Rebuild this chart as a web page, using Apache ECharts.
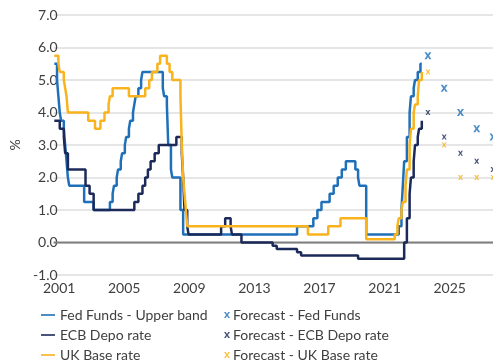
<!DOCTYPE html>
<html>
<head>
<meta charset="utf-8">
<script src="https://cdn.jsdelivr.net/npm/echarts@6/dist/echarts.min.js"></script>
<style>
  html, body { margin: 0; padding: 0; background: #ffffff; }
  #chart { width: 493px; height: 364px; }
</style>
</head>
<body>
<div id="chart"></div>
<script>
// Policy rate changes: [month of change, new rate in %]
const fedFunds = [
  ['2001-01', 5.5], ['2001-03', 5.0], ['2001-04', 4.5], ['2001-05', 4.0], ['2001-06', 3.75],
  ['2001-08', 3.5], ['2001-09', 3.0], ['2001-10', 2.5], ['2001-11', 2.0], ['2001-12', 1.75],
  ['2002-11', 1.25], ['2003-06', 1.0], ['2004-06', 1.25], ['2004-08', 1.5], ['2004-09', 1.75],
  ['2004-11', 2.0], ['2004-12', 2.25], ['2005-02', 2.5], ['2005-03', 2.75], ['2005-05', 3.0],
  ['2005-06', 3.25], ['2005-08', 3.5], ['2005-09', 3.75], ['2005-11', 4.0], ['2005-12', 4.25],
  ['2006-01', 4.5], ['2006-03', 4.75], ['2006-05', 5.0], ['2006-06', 5.25], ['2007-09', 4.75],
  ['2007-10', 4.5], ['2007-12', 4.25], ['2008-01', 3.0], ['2008-03', 2.25], ['2008-04', 2.0],
  ['2008-10', 1.0], ['2008-12', 0.25], ['2015-12', 0.5], ['2016-12', 0.75], ['2017-03', 1.0],
  ['2017-06', 1.25], ['2017-12', 1.5], ['2018-03', 1.75], ['2018-06', 2.0], ['2018-09', 2.25],
  ['2018-12', 2.5], ['2019-07', 2.25], ['2019-09', 2.0], ['2019-10', 1.75], ['2020-03', 0.25],
  ['2022-03', 0.5], ['2022-05', 1.0], ['2022-06', 1.75], ['2022-07', 2.5], ['2022-09', 3.25],
  ['2022-11', 4.0], ['2022-12', 4.5], ['2023-02', 4.75], ['2023-03', 5.0], ['2023-05', 5.25],
  ['2023-07', 5.5], ['2023-08', 5.5]
];
const ecbDepo = [
  ['2001-01', 3.75], ['2001-05', 3.5], ['2001-08', 3.25], ['2001-09', 2.75], ['2001-11', 2.25],
  ['2002-12', 1.75], ['2003-03', 1.5], ['2003-06', 1.0], ['2005-12', 1.25], ['2006-03', 1.5],
  ['2006-06', 1.75], ['2006-08', 2.0], ['2006-10', 2.25], ['2006-12', 2.5], ['2007-03', 2.75],
  ['2007-06', 3.0], ['2008-07', 3.25], ['2008-11', 2.75], ['2008-12', 2.0], ['2009-01', 1.0],
  ['2009-03', 0.5], ['2009-04', 0.25], ['2011-04', 0.5], ['2011-07', 0.75], ['2011-11', 0.5],
  ['2011-12', 0.25], ['2012-07', 0.0], ['2014-06', -0.1], ['2014-09', -0.2], ['2015-12', -0.3],
  ['2016-03', -0.4], ['2019-09', -0.5], ['2022-07', 0.0], ['2022-09', 0.75], ['2022-11', 1.5],
  ['2022-12', 2.0], ['2023-02', 2.5], ['2023-03', 3.0], ['2023-05', 3.25], ['2023-06', 3.5],
  ['2023-08', 3.75]
];
const ukBase = [
  ['2001-01', 5.75], ['2001-04', 5.5], ['2001-05', 5.25], ['2001-08', 5.0], ['2001-09', 4.75],
  ['2001-10', 4.5], ['2001-11', 4.0], ['2003-02', 3.75], ['2003-07', 3.5], ['2003-11', 3.75],
  ['2004-02', 4.0], ['2004-05', 4.25], ['2004-06', 4.5], ['2004-08', 4.75], ['2005-08', 4.5],
  ['2006-08', 4.75], ['2006-11', 5.0], ['2007-01', 5.25], ['2007-05', 5.5], ['2007-07', 5.75],
  ['2007-12', 5.5], ['2008-02', 5.25], ['2008-04', 5.0], ['2008-10', 4.5], ['2008-11', 3.0],
  ['2008-12', 2.0], ['2009-01', 1.5], ['2009-02', 1.0], ['2009-03', 0.5], ['2016-08', 0.25],
  ['2017-11', 0.5], ['2018-08', 0.75], ['2020-03', 0.1], ['2021-12', 0.25], ['2022-02', 0.5],
  ['2022-03', 0.75], ['2022-05', 1.0], ['2022-06', 1.25], ['2022-08', 1.75], ['2022-09', 2.25],
  ['2022-11', 3.0], ['2022-12', 3.5], ['2023-02', 4.0], ['2023-03', 4.25], ['2023-05', 4.5],
  ['2023-06', 5.0], ['2023-08', 5.25]
];

// Year-end forecasts
const forecastYears = [2024, 2025, 2026, 2027, 2028];
const fedForecast = [5.75, 4.75, 4.0, 3.5, 3.25];
const ecbForecast = [4.0, 3.25, 2.75, 2.5, 2.25];
const ukForecast = [5.25, 3.0, 2.0, 2.0, 2.0];

const startYear = 2001;
const endYear = 2028;
const yTicks = [-1, 0, 1, 2, 3, 4, 5, 6, 7];

const COLORS = { fed: '#1f70b8', ecb: '#1c2a5a', uk: '#f9b31c', zero: '#7f7f7f', grid: '#dedede', text: '#404040' };
const FONT = 'Lato';
const X_MARK = 'path://M0,0 L3,0 L5,3.2 L7,0 L10,0 L6.6,5 L10,10 L7,10 L5,6.8 L3,10 L0,10 L3.4,5 Z';
const LINE_ICON = 'path://M0,0 L14,0 L14,1.6 L0,1.6 Z';

// month string -> years elapsed since the axis start (mid-month)
function toX(s) {
  const [y, m] = s.split('-').map(Number);
  return y + (m - 0.5) / 12 - startYear;
}
const toPoints = arr => arr.map(d => [toX(d[0]), d[1]]);
const toForecast = vals => vals.map((v, i) => [forecastYears[i] - startYear, v]);

function lineSeries(name, data, color) {
  return {
    name, type: 'line', step: 'end', data: toPoints(data),
    symbol: 'none', showSymbol: false, z: 3,
    lineStyle: { color, width: 2.5 }, itemStyle: { color }
  };
}
function forecastSeries(name, data, color, size) {
  return {
    name, type: 'scatter', data: toForecast(data), symbol: X_MARK,
    symbolSize: size, itemStyle: { color }, z: 4, clip: false
  };
}

const legendText = { color: COLORS.text, fontSize: 14, fontFamily: FONT };

const chart = echarts.init(document.getElementById('chart'), null, { renderer: 'canvas' });
chart.setOption({
  animation: false,
  backgroundColor: '#ffffff',
  textStyle: { fontFamily: FONT },
  grid: { left: 43, right: 0, top: 15, bottom: 89 },
  xAxis: {
    type: 'value', min: 0, max: endYear - startYear, interval: 4,
    axisLine: { show: false }, axisTick: { show: false }, splitLine: { show: false },
    axisLabel: {
      color: COLORS.text, fontSize: 14, fontFamily: FONT, margin: 6,
      padding: [0, 0, 0, 11], showMaxLabel: false, alignMinLabel: 'center',
      formatter: v => String(startYear + v)
    }
  },
  yAxis: {
    type: 'value', min: yTicks[0], max: yTicks[yTicks.length - 1], interval: 1,
    name: '%', nameLocation: 'middle', nameRotate: 90, nameGap: 25,
    nameTextStyle: { color: COLORS.text, fontSize: 14, fontFamily: FONT },
    axisLine: { show: false }, axisTick: { show: false },
    splitLine: { lineStyle: { color: COLORS.grid, width: 1.5 } },
    axisLabel: { color: COLORS.text, fontSize: 14, fontFamily: FONT, margin: -4, formatter: v => v.toFixed(1) }
  },
  legend: [
    {
      data: [
        { name: 'Fed Funds - Upper band', icon: LINE_ICON },
        { name: 'ECB Depo rate', icon: LINE_ICON },
        { name: 'UK Base rate', icon: LINE_ICON }
      ],
      orient: 'vertical', left: 41, top: 308, height: 56, padding: 0,
      itemWidth: 14, itemHeight: 14, itemGap: 6,
      textStyle: legendText
    },
    {
      data: ['Forecast - Fed Funds', 'Forecast - ECB Depo rate', 'Forecast - UK Base rate'],
      orient: 'vertical', left: 224, top: 308, height: 56, padding: 0,
      itemWidth: 6, itemHeight: 14, itemGap: 6,
      textStyle: Object.assign({ padding: [0, 0, 0, -2] }, legendText)
    }
  ],
  series: [
    {
      name: 'zero', type: 'line', data: [[0, 0], [endYear - startYear, 0]],
      symbol: 'none', silent: true, z: 1,
      lineStyle: { color: COLORS.zero, width: 2 }
    },
    lineSeries('Fed Funds - Upper band', fedFunds, COLORS.fed),
    lineSeries('ECB Depo rate', ecbDepo, COLORS.ecb),
    lineSeries('UK Base rate', ukBase, COLORS.uk),
    forecastSeries('Forecast - Fed Funds', fedForecast, COLORS.fed, 7),
    forecastSeries('Forecast - ECB Depo rate', ecbForecast, COLORS.ecb, 5),
    forecastSeries('Forecast - UK Base rate', ukForecast, COLORS.uk, 5)
  ]
});
</script>
</body>
</html>
